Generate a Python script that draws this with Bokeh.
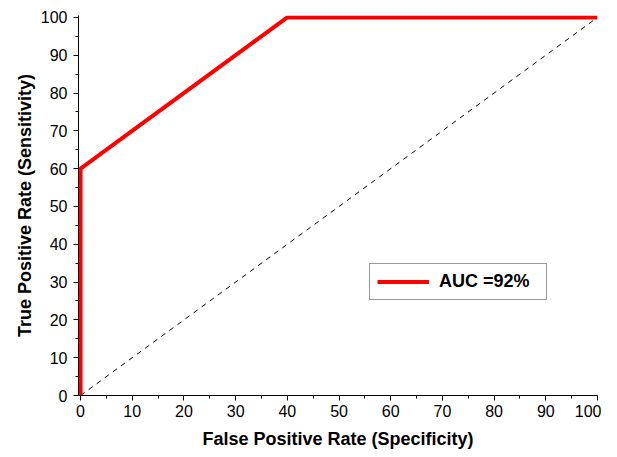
from bokeh.plotting import figure
from bokeh.models import Range1d, Legend, LegendItem, FixedTicker
from bokeh.embed import file_html
from bokeh.resources import INLINE

# ROC curve data (percent)
fpr = [0, 0, 40, 100]
tpr = [0, 60, 100, 100]
diag_x = [0, 100]
diag_y = [0, 100]
major_ticks = [0, 10, 20, 30, 40, 50, 60, 70, 80, 90, 100]
minor_ticks = [5, 15, 25, 35, 45, 55, 65, 75, 85, 95]
legend_label = "AUC =92%"

p = figure(width=601, height=454, output_backend="svg", toolbar_location=None,
           x_range=Range1d(-0.4, 100), y_range=Range1d(0, 100.5),
           min_border_left=78, min_border_right=4, min_border_top=15, min_border_bottom=59)
p.outline_line_color = None
p.grid.visible = False
p.background_fill_color = "white"

p.line(diag_x, diag_y, line_color="black", line_width=1, line_dash="5 5")
roc = p.line(fpr, tpr, line_color="#ff0000", line_width=4)

for ax in (p.xaxis[0], p.yaxis[0]):
    ax.ticker = FixedTicker(ticks=major_ticks, minor_ticks=minor_ticks)
    ax.major_tick_out = 5
    ax.major_tick_in = 0
    ax.minor_tick_out = 3
    ax.minor_tick_in = 0
    ax.axis_line_color = "black"
    ax.axis_line_width = 1
    ax.major_tick_line_color = "black"
    ax.minor_tick_line_color = "black"
    ax.major_label_text_font = "Liberation Sans"
    ax.major_label_text_font_size = "16px"
    ax.major_label_text_color = "black"
    ax.axis_label_text_font = "Liberation Sans"
    ax.axis_label_text_font_size = "18px"
    ax.axis_label_text_font_style = "bold"
    ax.axis_label_text_color = "black"

p.xaxis.axis_label = "False Positive Rate (Specificity)"
p.yaxis.axis_label = "True Positive Rate (Sensitivity)"
p.xaxis.major_label_standoff = 4
p.yaxis.major_label_standoff = 6
p.xaxis.axis_label_standoff = 9
p.yaxis.axis_label_standoff = 3

legend = Legend(items=[LegendItem(label=legend_label, renderers=[roc])],
                location=(291, 95), border_line_color="#333333", border_line_width=1,
                padding=7, glyph_width=52, glyph_height=17, label_height=17,
                label_standoff=10, label_width=100,
                label_text_font="Liberation Sans", label_text_font_size="18px",
                label_text_font_style="bold", label_text_color="black",
                background_fill_alpha=1.0, margin=0)
p.add_layout(legend)

open("out.html", "w").write(file_html(p, INLINE))
